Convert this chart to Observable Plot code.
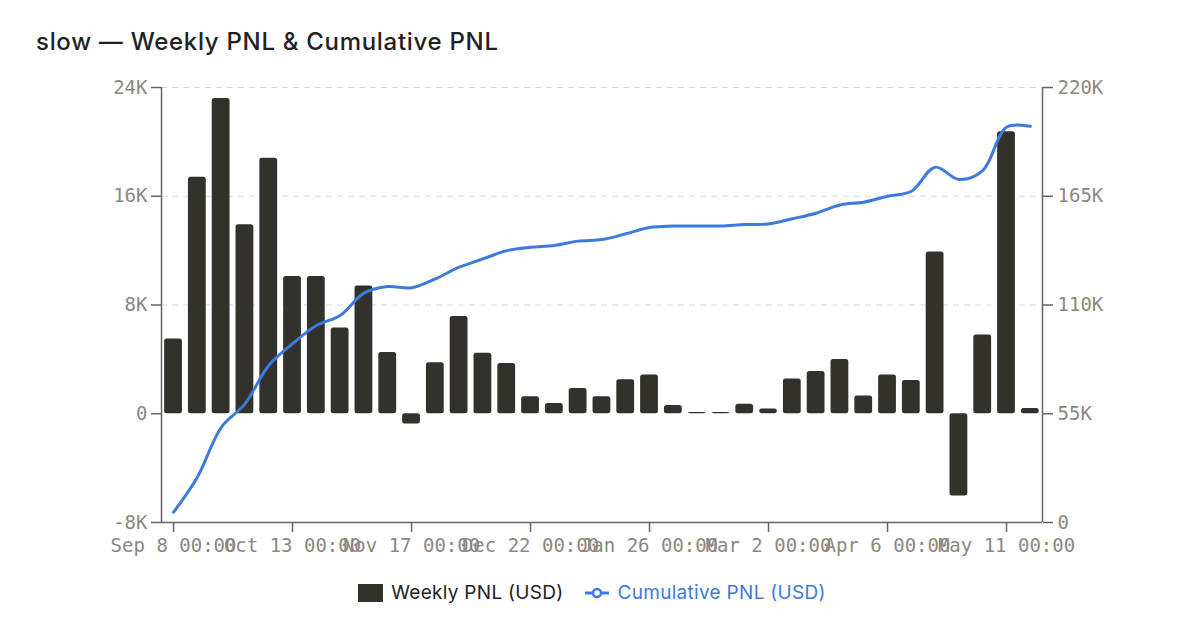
<!DOCTYPE html>
<html><head><meta charset="utf-8">
<script src="https://cdn.jsdelivr.net/npm/d3@7"></script>
<script src="https://cdn.jsdelivr.net/npm/@observablehq/plot@0.6"></script>
<style>
html,body{margin:0;padding:0;background:#fff;}
#wrap{position:relative;width:1200px;height:643px;overflow:hidden;font-family:Inter,"Noto Sans",sans-serif;}
#title{position:absolute;left:36px;top:27px;font-size:24px;font-weight:500;letter-spacing:0.7px;color:#222;white-space:nowrap;}
#chart{position:absolute;left:0;top:0;}
#legend{position:absolute;left:0;width:1184px;top:581px;display:flex;justify-content:center;align-items:center;font-size:19px;letter-spacing:0.3px;}
.item{display:flex;align-items:center;}
.sw{width:25px;height:18px;background:#33312c;margin-right:8px;}
.mk{margin-right:9px;}
</style></head>
<body>
<div id="wrap">
  <div id="title">slow — Weekly PNL &amp; Cumulative PNL</div>
  <div id="chart"></div>
  <div id="legend">
    <div class="item" style="color:#222;margin-right:21px;"><div class="sw"></div>Weekly PNL (USD)</div>
    <div class="item" style="color:#3d7ae0;"><svg class="mk" width="24" height="14"><line x1="0" y1="7" x2="24" y2="7" stroke="#3d7ae0" stroke-width="3"/><circle cx="12" cy="7" r="4" fill="#fff" stroke="#3d7ae0" stroke-width="2.5"/></svg>Cumulative PNL (USD)</div>
  </div>
</div>
<script>
const weeks = ["2025-09-08","2025-09-15","2025-09-22","2025-09-29","2025-10-06","2025-10-13","2025-10-20","2025-10-27","2025-11-03","2025-11-10","2025-11-17","2025-11-24","2025-12-01","2025-12-08","2025-12-15","2025-12-22","2025-12-29","2026-01-05","2026-01-12","2026-01-19","2026-01-26","2026-02-02","2026-02-09","2026-02-16","2026-02-23","2026-03-02","2026-03-09","2026-03-16","2026-03-23","2026-03-30","2026-04-06","2026-04-13","2026-04-20","2026-04-27","2026-05-04","2026-05-11","2026-05-18"];
const weeklyPnl = [5500,17400,23200,13900,18800,10100,10100,6300,9400,4500,-750,3750,7150,4450,3700,1250,750,1850,1250,2500,2850,600,100,100,700,350,2550,3100,4000,1300,2850,2450,11900,-6050,5800,20750,380];
const cumulativePnl = [5200,22900,48000,60000,79400,90400,99600,104700,116000,119300,118700,123200,129100,133300,137500,139200,140100,142300,143100,146000,149200,149900,150000,150000,150700,151000,153600,156400,160600,162000,165000,167500,179700,173500,178000,199900,200400];
const leftTicks = [-8000,0,8000,16000,24000];
const leftLabels = ["-8K","0","8K","16K","24K"];
const rightLabels = ["0","55K","110K","165K","220K"];
const xTicks = ["2025-09-08","2025-10-13","2025-11-17","2025-12-22","2026-01-26","2026-03-02","2026-04-06","2026-05-11"];
const rightMax = 220000;

const parse = d3.utcParse("%Y-%m-%d");
const rows = weeks.map((w,i)=>({date:parse(w), pnl:weeklyPnl[i], cum:cumulativePnl[i]}));
const ratio = rightMax/(leftTicks[leftTicks.length-1]-leftTicks[0]);
const toLeft = r => r/ratio + leftTicks[0];
const xStart = d3.utcHour.offset(parse("2025-09-08"), -84.7);
const xEnd = d3.utcHour.offset(parse("2026-05-11"), 254.1);
const fmt = d3.utcFormat("%b %-d %H:%M");
const axisGrey = "#666";
const labelGrey = "#8c8782";

const chart = Plot.plot({
  width:1200, height:560,
  marginLeft:161, marginRight:158, marginTop:87, marginBottom:38,
  x:{type:"utc", domain:[xStart,xEnd]},
  y:{domain:[leftTicks[0], leftTicks[leftTicks.length-1]]},
  style:{fontFamily:"'DejaVu Sans Mono', monospace", fontSize:"19px", background:"transparent", overflow:"visible"},
  marks:[
    Plot.gridY([8000,16000,24000], {stroke:"#d8d8d8", strokeOpacity:1, strokeDasharray:"6,5"}),
    Plot.rectY(rows, {x1:d=>d3.utcHour.offset(d.date,-84), x2:d=>d3.utcHour.offset(d.date,84), y1:0, y2:"pnl", insetLeft:3, insetRight:3, fill:"#33312c", rx:2.5}),
    Plot.line(rows, {x:"date", y:d=>toLeft(d.cum), stroke:"#3d7ae0", strokeWidth:3, curve:"catmull-rom"}),
    Plot.ruleX([xStart, xEnd], {y1:leftTicks[0], y2:leftTicks[leftTicks.length-1], stroke:axisGrey, strokeWidth:1.5}),
    Plot.ruleY([leftTicks[0]], {stroke:axisGrey, strokeWidth:1.5}),
    Plot.axisY(leftTicks, {anchor:"left", tickFormat:d=>leftLabels[leftTicks.indexOf(d)], tickSize:10, tickPadding:4, stroke:axisGrey, fill:labelGrey, strokeWidth:1.5, label:null}),
    Plot.axisY(leftTicks, {anchor:"right", tickFormat:d=>rightLabels[leftTicks.indexOf(d)], tickSize:10, tickPadding:5, stroke:axisGrey, fill:labelGrey, strokeWidth:1.5, label:null}),
    Plot.axisX(xTicks.map(parse), {tickFormat:fmt, tickSize:10, tickPadding:6, stroke:axisGrey, fill:labelGrey, strokeWidth:1.5, label:null})
  ]
});
document.getElementById("chart").appendChild(chart);
</script>
</body></html>
